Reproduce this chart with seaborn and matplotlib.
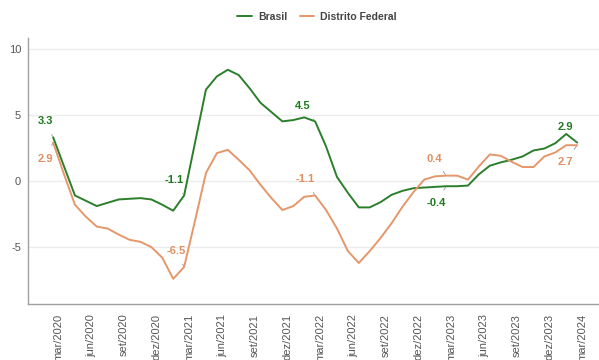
import matplotlib
matplotlib.use("Agg")
import matplotlib.pyplot as plt
import matplotlib.transforms as mtransforms
import seaborn as sns
import pandas as pd
import numpy as np

# ---- data (monthly, 12-month accumulated %, mar/2020 .. mar/2024) ----
brasil = [3.3, 1.1, -1.1, -1.5, -1.9, -1.65, -1.4, -1.35, -1.3, -1.4, -1.8, -2.25,
          -1.1, 2.9, 6.9, 7.9, 8.4, 8.0, 7.0, 5.9, 5.2, 4.5, 4.6, 4.8,
          4.5, 2.6, 0.3, -0.9, -2.0, -2.0, -1.6, -1.05, -0.75, -0.55, -0.5, -0.45,
          -0.4, -0.4, -0.35, 0.5, 1.15, 1.4, 1.6, 1.85, 2.3, 2.45, 2.85, 3.55,
          2.9]
distrito_federal = [2.9, 0.5, -1.8, -2.7, -3.45, -3.6, -4.05, -4.45, -4.6, -5.0, -5.8, -7.4,
                    -6.5, -3.0, 0.6, 2.1, 2.35, 1.6, 0.8, -0.3, -1.3, -2.2, -1.9, -1.2,
                    -1.1, -2.2, -3.6, -5.3, -6.2, -5.3, -4.3, -3.2, -1.95, -0.85, 0.1, 0.35,
                    0.4, 0.4, 0.1, 1.1, 2.0, 1.9, 1.45, 1.05, 1.05, 1.85, 2.15, 2.7,
                    2.7]
tick_labels = ["mar/2020", "jun/2020", "set/2020", "dez/2020", "mar/2021", "jun/2021",
               "set/2021", "dez/2021", "mar/2022", "jun/2022", "set/2022", "dez/2022",
               "mar/2023", "jun/2023", "set/2023", "dez/2023", "mar/2024"]
y_ticks = [-5, 0, 5, 10]
series_names = ["Brasil", "Distrito Federal"]
# labelled points: (series, month index)
labelled_idx = [0, 12, 24, 36, 48]

# ---- styling ----
GREEN = "#2b7f2b"
ORANGE = "#e5976b"
GREEN_TXT = "#1f7a1f"
ORANGE_TXT = "#e08f62"

sns.set_style("white")
plt.rcParams["font.family"] = ["Liberation Sans", "DejaVu Sans"]

n = len(brasil)
idx = list(range(n))
df = pd.DataFrame({
    "idx": idx + idx,
    "valor": brasil + distrito_federal,
    "serie": [series_names[0]] * n + [series_names[1]] * n,
})

fig = plt.figure(figsize=(5.99, 3.60), dpi=100)
ax = fig.add_axes([28 / 599, 1 - 304 / 360, 1 - 28 / 599, (304 - 38) / 360])

sns.lineplot(data=df, x="idx", y="valor", hue="serie", palette=[GREEN, ORANGE],
             linewidth=1.4, ax=ax, legend=False, sort=False)

ax.set_xlim(-2.3, 50.0)
ax.set_ylim(-9.3, 10.8)
ax.set_yticks(y_ticks)
ax.set_yticklabels([str(v) for v in y_ticks])
ax.set_xticks(list(range(0, n, 3)))
ax.set_xticklabels(tick_labels, rotation=90)
ax.set_xlabel("")
ax.set_ylabel("")

ax.tick_params(axis="both", length=0, labelsize=8, labelcolor="#555555")
ax.tick_params(axis="x", pad=7)
ax.tick_params(axis="y", pad=5)
offset = mtransforms.ScaledTranslation(5 / 100, 0, fig.dpi_scale_trans)
for lbl in ax.get_xticklabels():
    lbl.set_transform(lbl.get_transform() + offset)

ax.grid(axis="y", color="#ececec", linewidth=1.0)
ax.grid(axis="x", visible=False)
for s in ["top", "right"]:
    ax.spines[s].set_visible(False)
for s in ["left", "bottom"]:
    ax.spines[s].set_color("#a0a0a0")
    ax.spines[s].set_linewidth(1.0)

# ---- data labels with leader lines ----
offs_b = [(-8, 16), (-10, 15), (-12, 15), (-10, -17), (-12, 16)]
offs_d = [(-8, -16), (-8, 16), (-10, 16), (-12, 17), (-12, -17)]
for k, i in enumerate(labelled_idx):
    for vals, offs, col in [(brasil, offs_b, GREEN_TXT), (distrito_federal, offs_d, ORANGE_TXT)]:
        v = vals[i]
        ax.annotate(f"{v:.1f}", xy=(i, v), xytext=offs[k], textcoords="offset pixels",
                    ha="center", va="center", fontsize=8, fontweight="bold", color=col,
                    arrowprops=dict(arrowstyle="-", color="#909090", lw=0.6,
                                    shrinkA=4, shrinkB=1))

# ---- legend ----
from matplotlib.lines import Line2D
handles = [Line2D([0], [0], color=GREEN, lw=1.4), Line2D([0], [0], color=ORANGE, lw=1.4)]
leg = fig.legend(handles, series_names, loc="center", bbox_to_anchor=(317 / 599, 1 - 17 / 360),
                 ncol=2, frameon=False, handlelength=1.4, handletextpad=0.6, columnspacing=1.2,
                 prop={"size": 7.5, "weight": "bold"})
for t in leg.get_texts():
    t.set_color("#444444")

fig.savefig("out.png", dpi=100)
